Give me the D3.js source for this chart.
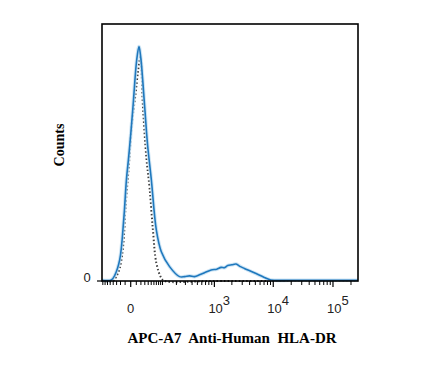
<!DOCTYPE html>
<html>
<head>
<meta charset="utf-8">
<script src="https://cdn.jsdelivr.net/npm/d3@7"></script>
<style>
  body { margin: 0; background: #fff; }
  svg { display: block; }
</style>
</head>
<body>
<div id="chart"></div>
<script>
let w = 443;
let h = 368;

// stained sample (blue line), fluorescence value and counts (% of max)
let stainedX = [-84, -46, -35, -22, -12.8, -7.5, -3.5, 0, 3.8, 10.8, 15.6, 19.5, 29.6, 38, 50.5, 70, 93.5, 144, 231, 289, 360, 443, 560, 670, 879, 1100, 1309, 1500, 1697, 2000, 2360, 2800, 3260, 4800, 7070, 9150, 20000, 100000, 262000];
let stainedY = [0.3, 0.4, 2.3, 8.2, 24, 39.3, 48, 57, 67.8, 86, 91.2, 87.2, 67.8, 53, 39.3, 19.8, 11.4, 5.6, 1.7, 1.7, 2.0, 1.7, 2.5, 3.2, 4.3, 4.6, 5.3, 5.2, 6.0, 6.3, 6.6, 5.6, 4.9, 3.2, 1.4, 0.4, 0.3, 0.3, 0.3];

// isotype control (dotted line)
let controlX = [-84, -41, -32, -22, -14.3, -8.8, -3.1, 1.6, 8.2, 13.9, 18.8, 25.1, 34.4, 44.6, 56.3, 70, 93.5, 112, 1000, 262000];
let controlY = [0, 0, 1.5, 5, 13.3, 30, 45, 60.7, 72.4, 82.1, 87.3, 67.8, 48, 36, 19.8, 7, 1.2, 0, 0, 0];

// x axis ticks
let majorTicks = [0, 1000, 10000, 100000];
let tickLabels = ["0", "3", "4", "5"];
let minorTicks = [-80, -70, -60, -50, -40, -30, -20, -10,
  10, 20, 30, 40, 50, 60, 70, 80, 90,
  100, 200, 300, 400, 500, 600, 700, 800, 900,
  2000, 3000, 4000, 5000, 6000, 7000, 8000, 9000,
  20000, 30000, 40000, 50000, 60000, 70000, 80000, 90000, 200000];

let margin = {left: 102, right: 85, top: 24, bottom: 87};

let svg = d3.select("#chart")
  .append("svg")
    .attr("width", w)
    .attr("height", h);

let x = d3.scaleSymlog()
  .constant(41.6)
  .domain([-84, 262000])
  .range([margin.left, w - margin.right]);

let y = d3.scaleLinear()
  .domain([0, 100])
  .range([h - margin.bottom, margin.top]);

let line = d3.line()
  .x(d => x(d[0]))
  .y(d => y(d[1]))
  .curve(d3.curveCatmullRom.alpha(0.5));

let stained = d3.zip(stainedX, stainedY);
let control = d3.zip(controlX, controlY);

// control, dotted
svg.append("path")
  .datum(control)
  .attr("d", line)
  .attr("fill", "none")
  .attr("stroke", "#3f3f3f")
  .attr("stroke-width", 2)
  .attr("stroke-dasharray", "1.5,2.2");

// stained, light halo then line
svg.append("path")
  .datum(stained)
  .attr("d", line)
  .attr("fill", "none")
  .attr("stroke", "#c2def3")
  .attr("stroke-width", 3.6)
  .attr("stroke-opacity", 0.8);

svg.append("path")
  .datum(stained)
  .attr("d", line)
  .attr("fill", "none")
  .attr("stroke", "#1f78bd")
  .attr("stroke-width", 1.6);

// frame
svg.append("rect")
  .attr("x", margin.left)
  .attr("y", margin.top)
  .attr("width", w - margin.right - margin.left)
  .attr("height", h - margin.bottom - margin.top)
  .attr("fill", "none")
  .attr("stroke", "#000")
  .attr("stroke-width", 1.6);

let base = h - margin.bottom;

// x ticks
svg.selectAll(".minor").data(minorTicks)
  .enter()
    .append("line")
    .attr("class", "minor")
    .attr("x1", d => x(d))
    .attr("x2", d => x(d))
    .attr("y1", base)
    .attr("y2", base + 4)
    .attr("stroke", "#000")
    .attr("stroke-width", 1);

svg.selectAll(".major").data(majorTicks)
  .enter()
    .append("line")
    .attr("class", "major")
    .attr("x1", d => x(d))
    .attr("x2", d => x(d))
    .attr("y1", base)
    .attr("y2", base + 6)
    .attr("stroke", "#000")
    .attr("stroke-width", 1.2);

let labels = svg.selectAll(".tlab").data(majorTicks)
  .enter()
    .append("text")
    .attr("class", "tlab")
    .attr("font-family", "Liberation Sans, Arial, sans-serif")
    .attr("font-size", 13)
    .attr("fill", "#222")
    .attr("y", 313);

labels.each(function(d, i) {
  let t = d3.select(this);
  if (d == 0) {
    t.attr("x", x(d)).attr("text-anchor", "middle").text("0");
  } else {
    t.attr("x", x(d) - 6);
    t.append("tspan").text("10");
    t.append("tspan").attr("dy", -8).attr("font-size", 13).text(tickLabels[i]);
  }
});

// y tick
svg.append("line")
  .attr("x1", margin.left - 5)
  .attr("x2", margin.left)
  .attr("y1", y(0))
  .attr("y2", y(0))
  .attr("stroke", "#000")
  .attr("stroke-width", 1.2);

svg.append("text")
  .attr("x", 87)
  .attr("y", y(0) + 1)
  .attr("text-anchor", "middle")
  .attr("font-family", "Liberation Sans, Arial, sans-serif")
  .attr("font-size", 13)
  .attr("fill", "#222")
  .text("0");

// axis titles
svg.append("text")
  .attr("transform", "translate(64,145) rotate(-90)")
  .attr("text-anchor", "middle")
  .attr("font-family", "Liberation Serif, Times New Roman, serif")
  .attr("font-weight", "bold")
  .attr("font-size", 14)
  .text("Counts");

svg.append("text")
  .attr("x", 232)
  .attr("y", 343)
  .attr("text-anchor", "middle")
  .attr("font-family", "Liberation Serif, Times New Roman, serif")
  .attr("font-weight", "bold")
  .attr("font-size", 15)
  .style("white-space", "pre")
  .text("APC-A7  Anti-Human  HLA-DR");
</script>
</body>
</html>
